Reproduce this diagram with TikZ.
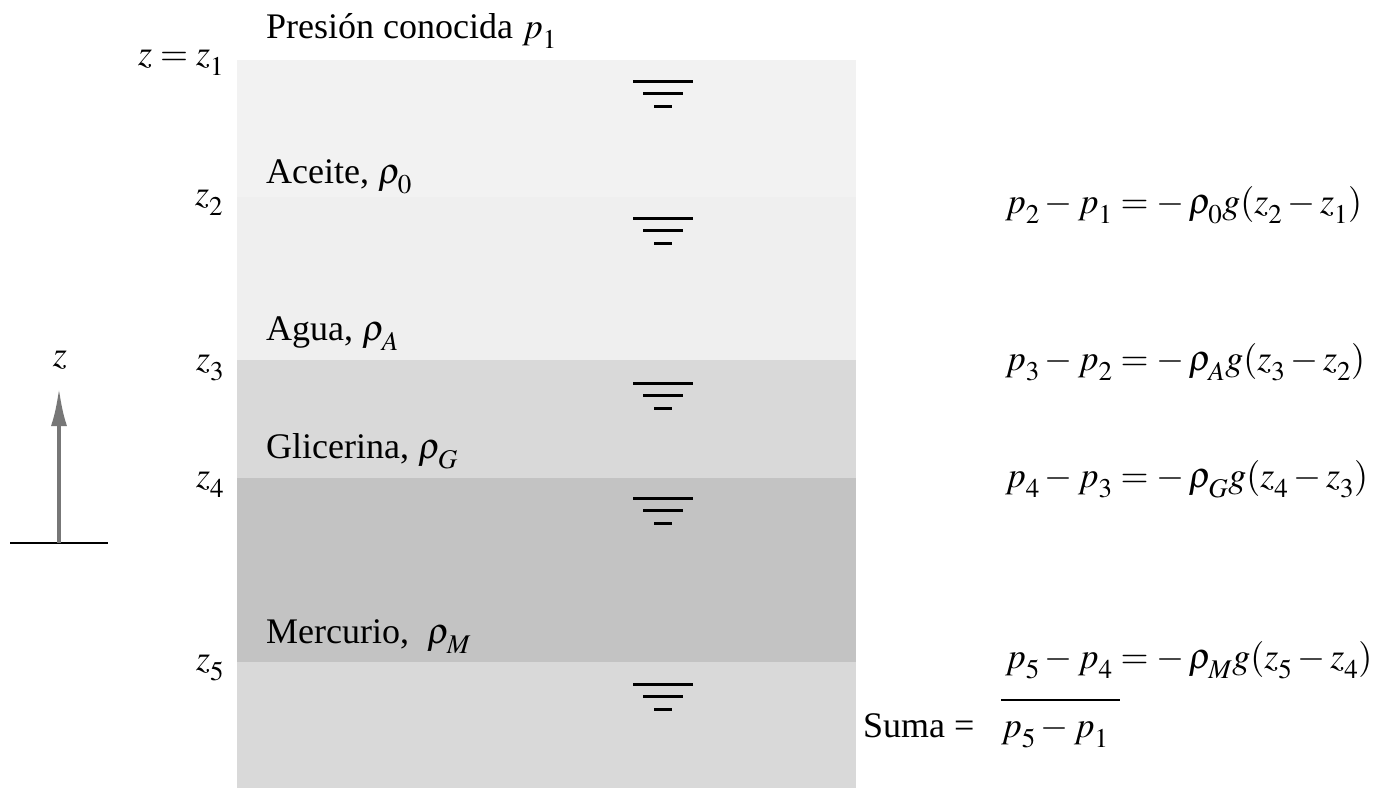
\documentclass[tikz,border=0pt]{standalone}
\usepackage{mathptmx}
\usepackage{fontspec}
\setmainfont{Liberation Serif}
\usetikzlibrary{arrows.meta}
\DeclareMathSizes{36}{36}{27}{20}
\definecolor{cA}{HTML}{F2F2F2}
\definecolor{cB}{HTML}{EFEFEF}
\definecolor{cC}{HTML}{D9D9D9}
\definecolor{cD}{HTML}{C3C3C3}
\definecolor{arr}{HTML}{777777}
\newcommand{\fsz}{\fontsize{36}{42}\selectfont}
\newcommand{\lowsub}{\fontdimen16\textfont2=10pt \fontdimen17\textfont2=10pt }
\tikzset{
  lbl/.style={anchor=base west, inner sep=0pt, font=\fsz},
  fsurf/.pic={\draw[line width=3pt] (-30,0)--(30,0) (-20,12)--(20,12) (-9,25)--(9,25);}
}
\begin{document}
\begin{tikzpicture}[x=1pt,y=-1pt]
\useasboundingbox[fill=white] (0,0) rectangle (1386,788);
% layers
\fill[cA] (237,60) rectangle (856,197);
\fill[cB] (237,197) rectangle (856,360);
\fill[cC] (237,360) rectangle (856,478);
\fill[cD] (237,478) rectangle (856,662);
\fill[cC] (237,662) rectangle (856,788);
% free-surface marks
\pic at (663,81) {fsurf};
\pic at (663,218) {fsurf};
\pic at (663,383) {fsurf};
\pic at (663,498) {fsurf};
\pic at (663,684) {fsurf};
% labels in column
\node[lbl] (pres) at (266,38) {Presión conocida $\lowsub p_1$};
\node[lbl] (zz1) at (138,65) {$\lowsub z=z_1$};
\node[lbl] (ace) at (266,183) {Aceite, $\lowsub \rho_0$};
\node[lbl] (z2) at (195,205) {$\lowsub z_2$};
\node[lbl] (agu) at (266,340) {Agua, $\lowsub \rho_A$};
\node[lbl] (z3) at (196,370) {$\lowsub z_3$};
\node[lbl] (gli) at (266,458) {Glicerina, $\lowsub \rho_G$};
\node[lbl] (z4) at (196,487) {$\lowsub z_4$};
\node[lbl] (mer) at (266,643) {Mercurio, \ $\lowsub \rho_M$};
\node[lbl] (z5) at (196,670) {$\lowsub z_5$};
% axis
\coordinate (abase) at (59,543);
\coordinate (atip) at (59,388);
\coordinate (gl) at (10,543);
\coordinate (gr) at (108,543);
\draw[line width=2pt] (gl) -- (gr);
\draw[arr, line width=4pt, -{Latex[length=38pt,width=16pt]}] (abase) -- (atip);
\node[font=\fsz, inner sep=0pt] (zax) at (60,360) {$z$};
% equations
\node[lbl] (e1) at (1005,213) {$\lowsub p_2-p_1=-\,\rho_0 g(z_2-z_1)$};
\node[lbl] (e2) at (1005,370) {$\lowsub p_3-p_2=-\,\rho_A g(z_3-z_2)$};
\node[lbl] (e3) at (1005,487) {$\lowsub p_4-p_3=-\,\rho_G g(z_4-z_3)$};
\node[lbl] (e4) at (1005,668) {$\lowsub p_5-p_4=-\,\rho_M g(z_5-z_4)$};
\coordinate (fl) at (1001,700);
\coordinate (fr) at (1120,700);
\draw[line width=2.5pt] (fl) -- (fr);
\node[lbl] (suma) at (863,737) {Suma =};
\node[lbl] (e5) at (1001,737) {$\lowsub p_5-p_1$};
\end{tikzpicture}
\end{document}
